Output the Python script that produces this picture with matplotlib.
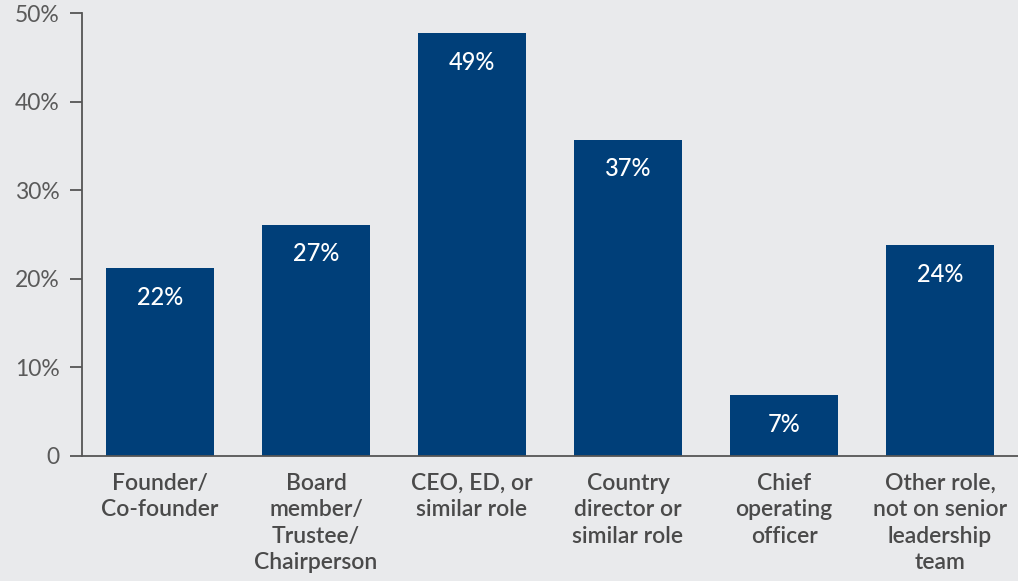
import matplotlib
matplotlib.use('Agg')
import matplotlib.pyplot as plt
import numpy as np

# roles and share of respondents (bar heights as drawn, labels as printed)
roles = ['Founder/\nCo-founder', 'Board\nmember/\nTrustee/\nChairperson', 'CEO, ED, or\nsimilar role',
         'Country\ndirector or\nsimilar role', 'Chief\noperating\nofficer', 'Other role,\nnot on senior\nleadership\nteam']
heights = [21.2, 26.1, 47.7, 35.7, 6.9, 23.8]
labels = ['22%', '27%', '49%', '37%', '7%', '24%']
yticks = [0, 10, 20, 30, 40, 50]
ytick_labels = ['0', '10%', '20%', '30%', '40%', '50%']

bg = '#e9eaec'
navy = '#003f79'
grey = '#555555'

plt.rcParams['font.family'] = ['Lato', 'DejaVu Sans']

fig = plt.figure(figsize=(10.18, 5.81), dpi=100, facecolor=bg)
ax = fig.add_axes([82/1018, (581-456)/581, 1 - 82/1018, (456-13)/581])
ax.set_facecolor(bg)

x = np.arange(len(roles))
bars = ax.bar(x, heights, width=0.686, color=navy)
for xi, h, lab in zip(x, heights, labels):
    ax.annotate(lab, (xi, h), xytext=(0, -21), textcoords='offset points',
                ha='center', va='center', color='white', fontsize=17, fontweight='medium')

ax.set_xlim(-0.5, len(roles) - 0.5)
ax.set_ylim(0, 50)
ax.set_yticks(yticks)
ax.set_yticklabels(ytick_labels, fontsize=16.5, color='#5a5a5a')
ax.set_xticks(x)
ax.set_xticklabels(roles, fontsize=16.5, color='#4a4a4a', fontweight='semibold', linespacing=1.32)
ax.tick_params(axis='y', length=9, width=1.3, color=grey, pad=7)
ax.tick_params(axis='x', length=0, pad=12)

for s in ['top', 'right']:
    ax.spines[s].set_visible(False)
for s in ['left', 'bottom']:
    ax.spines[s].set_color(grey)
    ax.spines[s].set_linewidth(1.3)

fig.savefig('out.png', dpi=100, facecolor=bg)
